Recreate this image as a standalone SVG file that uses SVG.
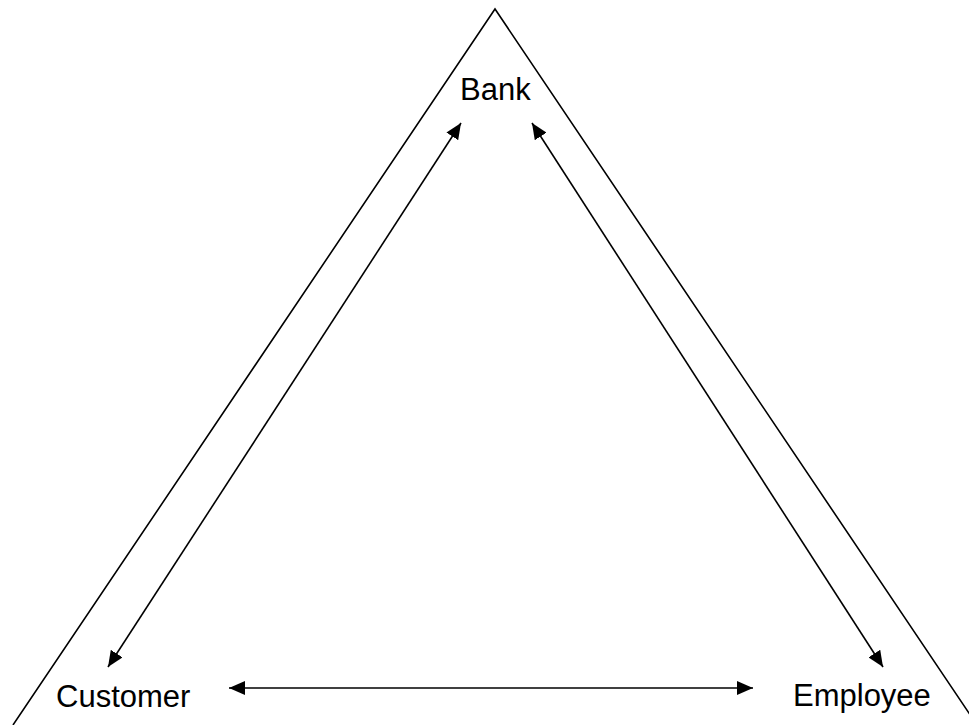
<svg xmlns="http://www.w3.org/2000/svg" width="969" height="725" viewBox="0 0 969 725">
<style>
.edge{stroke:#000;stroke-width:1.6;fill:none}
.lbl{font-family:"Liberation Sans",Arial,sans-serif;font-size:31px;fill:#000}
</style>
<defs>
<marker id="ah" markerUnits="userSpaceOnUse" markerWidth="18" markerHeight="14" refX="16" refY="7" orient="auto-start-reverse">
<path d="M0,0 L16,7 L0,14 Z" fill="#000"/>
</marker>
</defs>
<rect width="969" height="725" fill="#fff"/>
<g id="frame">
<polyline class="edge" points="13,725 495,9 977,725"/>
</g>
<g id="connectors">
<line class="edge" x1="108" y1="667" x2="461" y2="123" marker-start="url(#ah)" marker-end="url(#ah)"/>
<line class="edge" x1="532" y1="123" x2="883" y2="667" marker-start="url(#ah)" marker-end="url(#ah)"/>
<line class="edge" x1="229" y1="688" x2="753" y2="688" marker-start="url(#ah)" marker-end="url(#ah)"/>
</g>
<g id="bank"><text class="lbl" x="460" y="100">Bank</text></g>
<g id="customer"><text class="lbl" x="56" y="707">Customer</text></g>
<g id="employee"><text class="lbl" x="793" y="706">Employee</text></g>
</svg>
